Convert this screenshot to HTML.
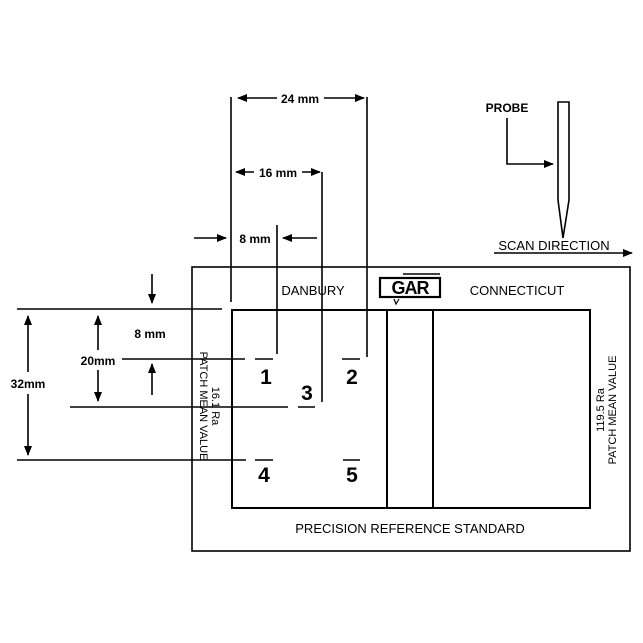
<!DOCTYPE html>
<html><head><style>
html,body{margin:0;padding:0;background:#fff;}
svg{display:block;}
text{font-family:"Liberation Sans",sans-serif;fill:#000;}
</style></head><body>
<svg width="643" height="643" viewBox="0 0 643 643" xmlns="http://www.w3.org/2000/svg">
<defs>
<marker id="a" markerWidth="10" markerHeight="8" refX="9" refY="4" orient="auto" markerUnits="userSpaceOnUse">
<path d="M0,0 L10,4 L0,8 Z" fill="#000"/></marker>
</defs>
<g stroke="#000" fill="none" stroke-width="1.6">
<rect x="192" y="267" width="438" height="284"/>
<rect x="232" y="310" width="358" height="198" stroke-width="2"/>
<line x1="387" y1="310" x2="387" y2="508" stroke-width="2"/>
<line x1="433" y1="310" x2="433" y2="508" stroke-width="2"/>
<rect x="380" y="278" width="60" height="19" stroke-width="2.2"/>
<line x1="403" y1="274" x2="440" y2="274"/>
<path d="M394,299 L396,304 L399,299" stroke-width="1.2"/>
<line x1="231" y1="97" x2="231" y2="302"/>
<line x1="277" y1="225" x2="277" y2="354"/>
<line x1="322" y1="172" x2="322" y2="402"/>
<line x1="367" y1="97" x2="367" y2="357"/>
<line x1="277" y1="98" x2="238" y2="98" marker-end="url(#a)"/>
<line x1="324" y1="98" x2="364" y2="98" marker-end="url(#a)"/>
<line x1="254" y1="172" x2="236" y2="172" marker-end="url(#a)"/>
<line x1="302" y1="172" x2="320" y2="172" marker-end="url(#a)"/>
<line x1="194" y1="238" x2="226" y2="238" marker-end="url(#a)"/>
<line x1="317" y1="238" x2="283" y2="238" marker-end="url(#a)"/>
<line x1="17" y1="309" x2="222" y2="309"/>
<line x1="122" y1="359" x2="245" y2="359"/>
<line x1="70" y1="407" x2="288" y2="407"/>
<line x1="17" y1="460" x2="246" y2="460"/>
<line x1="255" y1="359" x2="273" y2="359"/>
<line x1="342" y1="359" x2="360" y2="359"/>
<line x1="298" y1="407" x2="315" y2="407"/>
<line x1="255" y1="460" x2="273" y2="460"/>
<line x1="343" y1="460" x2="360" y2="460"/>
<line x1="152" y1="274" x2="152" y2="303" marker-end="url(#a)"/>
<line x1="152" y1="395" x2="152" y2="364" marker-end="url(#a)"/>
<line x1="98" y1="350" x2="98" y2="316" marker-end="url(#a)"/>
<line x1="98" y1="370" x2="98" y2="401" marker-end="url(#a)"/>
<line x1="28" y1="372" x2="28" y2="316" marker-end="url(#a)"/>
<line x1="28" y1="394" x2="28" y2="455" marker-end="url(#a)"/>
<path d="M558,102 L569,102 L569,200 L563,238 L558,200 Z"/>
<path d="M507,118 L507,164 L553,164" marker-end="url(#a)"/>
<line x1="494" y1="253" x2="632" y2="253" marker-end="url(#a)"/>
</g>
<text x="300" y="103" font-size="12" font-weight="bold" text-anchor="middle">24 mm</text>
<text x="278" y="177" font-size="12" font-weight="bold" text-anchor="middle">16 mm</text>
<text x="255" y="243" font-size="12" font-weight="bold" text-anchor="middle">8 mm</text>
<text x="150" y="338" font-size="12" font-weight="bold" text-anchor="middle">8 mm</text>
<text x="98" y="365" font-size="12" font-weight="bold" text-anchor="middle">20mm</text>
<text x="28" y="388" font-size="12" font-weight="bold" text-anchor="middle">32mm</text>
<text x="313" y="295" font-size="13" text-anchor="middle">DANBURY</text>
<text x="517" y="295" font-size="13" text-anchor="middle">CONNECTICUT</text>
<text x="410" y="294" font-size="18" font-weight="bold" text-anchor="middle" letter-spacing="-1">GAR</text>
<text x="410" y="533" font-size="13" text-anchor="middle">PRECISION REFERENCE STANDARD</text>
<g font-size="21" font-weight="bold" text-anchor="middle">
<text x="266" y="384">1</text><text x="352" y="384">2</text><text x="307" y="400">3</text>
<text x="264" y="482">4</text><text x="352" y="482">5</text>
</g>
<text transform="translate(200,406) rotate(90)" font-size="11" text-anchor="middle">PATCH MEAN VALUE</text>
<text transform="translate(212,406) rotate(90)" font-size="11" text-anchor="middle">16.1 Ra</text>
<text transform="translate(604,410) rotate(-90)" font-size="11" text-anchor="middle">119.5 Ra</text>
<text transform="translate(616,410) rotate(-90)" font-size="11" text-anchor="middle">PATCH MEAN VALUE</text>
<text x="507" y="112" font-size="12" font-weight="bold" text-anchor="middle">PROBE</text>
<text x="554" y="250" font-size="13" text-anchor="middle">SCAN DIRECTION</text>
</svg>
</body></html>
